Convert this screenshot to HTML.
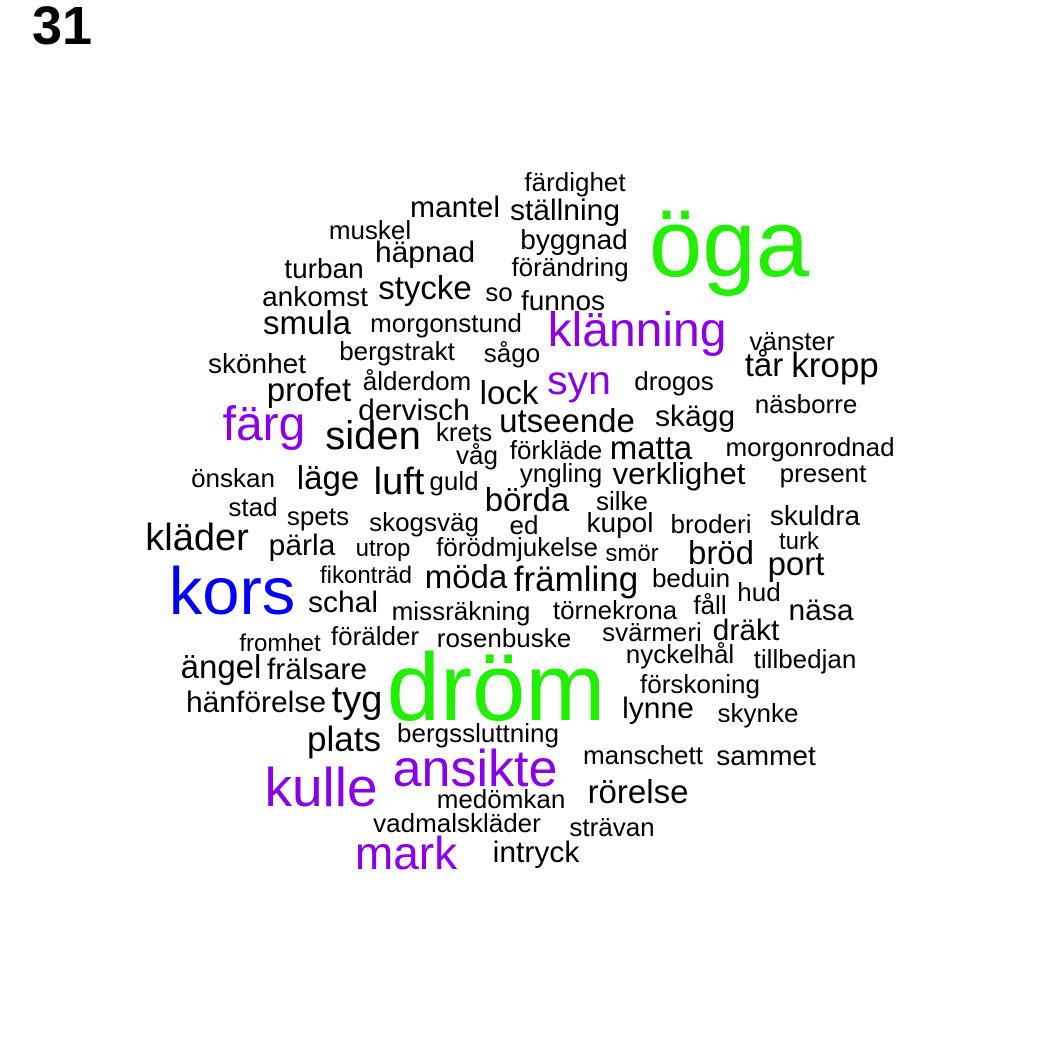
<!DOCTYPE html>
<html><head><meta charset="utf-8">
<style>
html,body{margin:0;padding:0;background:#fff;}
svg{display:block;}
text{font-family:"Liberation Sans",Arial,sans-serif;}
</style></head>
<body>
<svg id="cloud" width="1050" height="1050" viewBox="0 0 1050 1050">
<rect width="1050" height="1050" fill="#fff"/>
<text x="32" y="44" font-size="54" font-weight="bold" fill="#000">31</text>
</svg>
<script>
const words = ["färdighet","mantel","ställning","muskel","häpnad","byggnad","turban","förändring","ankomst","stycke","so","funnos","smula","morgonstund","vänster","skönhet","bergstrakt","sågo","tår","kropp","drogos","profet","ålderdom","lock","dervisch","näsborre","skägg","utseende","siden","krets","förkläde","matta","morgonrodnad","våg","önskan","läge","luft","guld","yngling","verklighet","present","börda","silke","stad","spets","skogsväg","ed","kupol","broderi","skuldra","kläder","pärla","utrop","förödmjukelse","smör","bröd","turk","port","fikonträd","möda","främling","beduin","schal","missräkning","törnekrona","fåll","hud","näsa","fromhet","förälder","rosenbuske","svärmeri","dräkt","nyckelhål","tillbedjan","ängel","frälsare","förskoning","hänförelse","tyg","lynne","skynke","bergssluttning","plats","manschett","sammet","medömkan","rörelse","vadmalskläder","strävan","intryck","öga","dröm","kors","klänning","syn","färg","ansikte","kulle","mark"];
const sizes = [26,30,30,26,30,28,28,26,28,33,26,28,33,26,26,28,26,26,33,35,26,33,26,33,30,26,30,33,40,26,26,33,26,26,26,33,38,26,26,31,26,33,26,26,26,26,26,28,26,28,38,30,24,26,24,33,24,33,24,33,35,26,30,26,26,26,26,30,24,26,26,26,30,26,26,33,30,26,30,38,30,26,26,35,26,28,26,33,26,26,30,96,96,67,48,41,48,52,55,46];
const colors = ["k","k","k","k","k","k","k","k","k","k","k","k","k","k","k","k","k","k","k","k","k","k","k","k","k","k","k","k","k","k","k","k","k","k","k","k","k","k","k","k","k","k","k","k","k","k","k","k","k","k","k","k","k","k","k","k","k","k","k","k","k","k","k","k","k","k","k","k","k","k","k","k","k","k","k","k","k","k","k","k","k","k","k","k","k","k","k","k","k","k","k","g","g","b","p","p","p","p","p","p"];
const xs = [575,455,565,370,425,574,324,570,315,425,499,563,307,446,792,257,397,512,764,835,674,309,417,509,414,806,695,567,373,464,556,651,810,477,233,328,399,454,561,679,823,527,622,253,318,424,524,620,711,815,197,302,383,517,632,721,799,796,366,466,576,691,343,461,615,710,759,821,280,375,504,652,746,680,805,221,317,700,256,357,658,758,478,344,643,766,501,638,457,612,536,729,496,232,637,579,264,475,321,406];
const ys = [191,217,220,239,262,249,278,276,306,299,301,310,334,332,350,373,360,362,376,377,390,401,390,404,420,413,426,432,449,441,459,459,456,464,487,489,494,490,482,484,482,511,510,516,525,531,534,532,533,525,550,555,556,556,561,564,549,575,583,588,591,587,612,620,619,614,601,620,651,645,647,641,640,663,668,678,679,693,712,712,718,722,742,751,764,765,808,803,832,836,862,276,720,614,346,394,440,786,806,869];
const palette = {k:"#000000", g:"#22ee00", b:"#0000ff", p:"#8a00e6"};
const svg = document.getElementById('cloud');
for (let i = 0; i < words.length; i++) {
  const t = document.createElementNS('http://www.w3.org/2000/svg','text');
  t.setAttribute('x', xs[i]);
  t.setAttribute('y', ys[i]);
  t.setAttribute('font-size', sizes[i]);
  t.setAttribute('text-anchor', 'middle');
  t.setAttribute('fill', palette[colors[i]]);
  t.textContent = words[i];
  
  
  svg.appendChild(t);
}
</script>
</body></html>
